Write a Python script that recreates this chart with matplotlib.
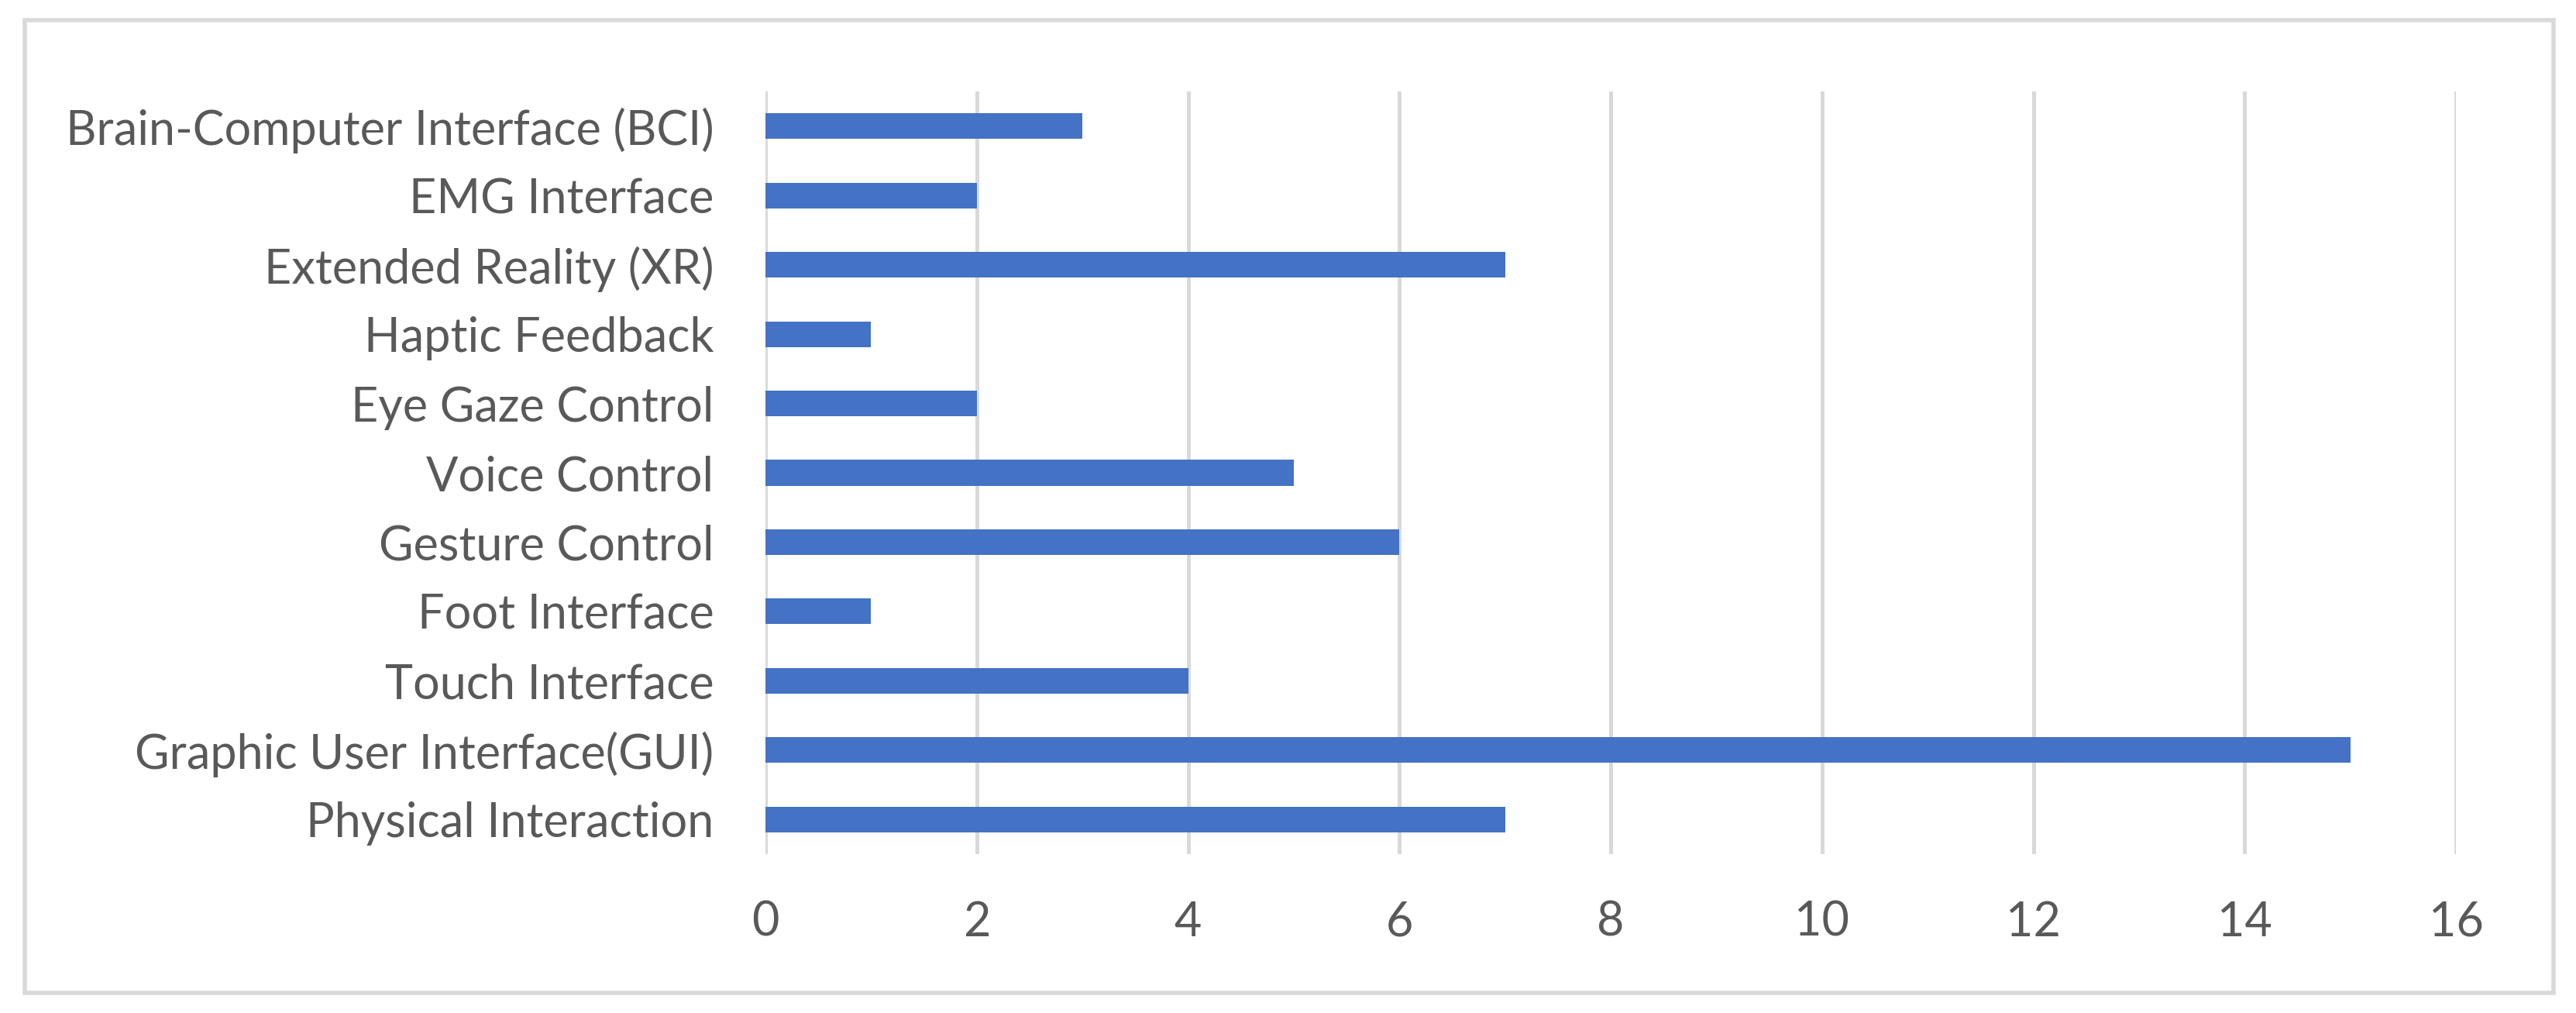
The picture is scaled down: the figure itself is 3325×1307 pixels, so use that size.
import matplotlib
matplotlib.use("Agg")
import matplotlib.pyplot as plt
from matplotlib.patches import Rectangle

categories = [
    "Physical Interaction",
    "Graphic User Interface(GUI)",
    "Touch Interface",
    "Foot Interface",
    "Gesture Control",
    "Voice Control",
    "Eye Gaze Control",
    "Haptic Feedback",
    "Extended Reality (XR)",
    "EMG Interface",
    "Brain-Computer Interface (BCI)",
]
values = [7, 15, 4, 1, 6, 5, 2, 1, 7, 2, 3]
x_ticks = [0, 2, 4, 6, 8, 10, 12, 14, 16]

W, H = 3325, 1307
DPI = 100
fig = plt.figure(figsize=(W / DPI, H / DPI), dpi=DPI)
fig.patch.set_facecolor("white")

# outer border
fig.add_artist(Rectangle((32 / W, 1 - 1281 / H), (3296 - 32) / W, (1281 - 26) / H,
                         transform=fig.transFigure, fill=False,
                         edgecolor="#d9d9d9", linewidth=4.0))

ax = fig.add_axes([988 / W, 1 - 1102 / H, (3170 - 988) / W, (1102 - 118) / H])
ax.barh(range(len(categories)), values, height=0.37, color="#4472C4", zorder=3)
ax.set_xlim(0, 16)
ax.set_ylim(-0.5, len(categories) - 0.5)
ax.set_xticks(x_ticks)
ax.set_xticklabels([str(t) for t in x_ticks])
ax.set_yticks(range(len(categories)))
ax.set_yticklabels(categories)

for s in ax.spines.values():
    s.set_visible(False)
ax.grid(axis="x", color="#d9d9d9", linewidth=3.6, zorder=0)
ax.grid(axis="y", visible=False)
ax.tick_params(axis="both", length=0, colors="#595959")
ax.tick_params(axis="y", pad=48)
ax.tick_params(axis="x", pad=43)
for lab in ax.get_xticklabels() + ax.get_yticklabels():
    lab.set_fontfamily("Lato")
    lab.set_fontsize(44)
    lab.set_color("#595959")

fig.savefig("out.png", dpi=DPI, facecolor="white")
